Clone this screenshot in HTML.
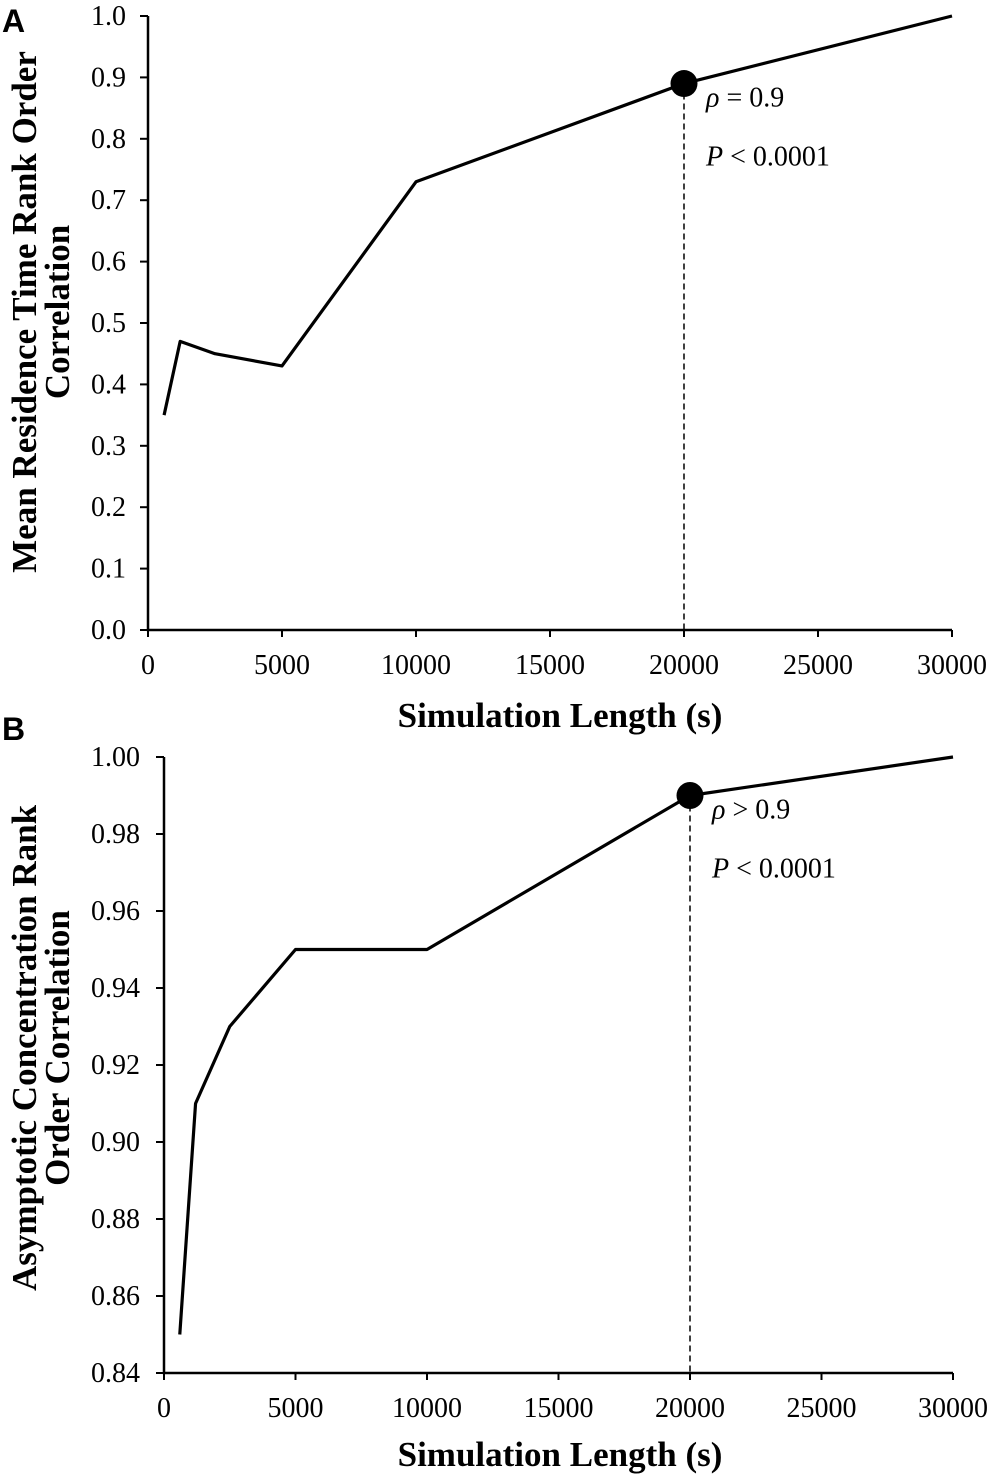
<!DOCTYPE html>
<html><head><meta charset="utf-8"><style>
body{margin:0;background:#fff}
svg{display:block;font-family:"Liberation Serif",serif}
</style></head><body>
<svg width="992" height="1476" viewBox="0 0 992 1476">
<g id="A"></g>
<g id="B"></g>
</svg>
<script>
const xsA=[600,1200,2500,5000,10000,20000,30000];
const ysA=[0.35,0.47,0.45,0.43,0.73,0.89,1.0];
const xsB=[600,1200,2500,5000,10000,20000,30000];
const ysB=[0.85,0.91,0.93,0.95,0.95,0.99,1.0];
const xTicks=[0,5000,10000,15000,20000,25000,30000];
const yTicksA=[0,0.1,0.2,0.3,0.4,0.5,0.6,0.7,0.8,0.9,1.0];
const yTicksB=[0.84,0.86,0.88,0.90,0.92,0.94,0.96,0.98,1.00];
const markA=[20000,0.89];
const markB=[20000,0.99];
const NS="http://www.w3.org/2000/svg";
function mk(p,t,a){const e=document.createElementNS(NS,t);for(const k in a)e.setAttribute(k,a[k]);p.appendChild(e);return e;}
function panel(g,cfg){
 const X=v=>cfg.x0+(v-0)/30000*(cfg.x1-cfg.x0);
 const Y=v=>cfg.y0+(v-cfg.ymin)/(cfg.ymax-cfg.ymin)*(cfg.y1-cfg.y0);
 const ax=mk(g,'path',{d:`M${X(0)},${Y(cfg.ymax)}V${Y(cfg.ymin)}H${X(30000)}`,stroke:'#000','stroke-width':2.5,fill:'none'});
 
 
 xTicks.forEach(t=>{
  const l=mk(g,'line',{x1:X(t),x2:X(t),y1:Y(cfg.ymin),y2:Y(cfg.ymin)+7,stroke:'#000','stroke-width':2});
  
  
  const tx=mk(g,'text',{x:X(t),y:Y(cfg.ymin)+44,'font-size':28,'text-anchor':'middle'});tx.textContent=t;
  
  
 });
 cfg.yt.forEach(t=>{
  const l=mk(g,'line',{x1:X(0)-8,x2:X(0),y1:Y(t),y2:Y(t),stroke:'#000','stroke-width':2});
  
  
  const tx=mk(g,'text',{x:X(0)-cfg.tlo,y:Y(t)+9,'font-size':28,'text-anchor':'end'});tx.textContent=t.toFixed(cfg.dec);
  
  
 });
 const pts=cfg.xs.map((v,i)=>X(v)+','+Y(cfg.ys[i])).join(' ');
 const pl=mk(g,'polyline',{points:pts,fill:'none',stroke:'#000','stroke-width':3.2,'stroke-linejoin':'round'});
 
 
 const dl=mk(g,'line',{x1:X(cfg.m[0]),x2:X(cfg.m[0]),y1:Y(cfg.m[1]),y2:Y(cfg.ymin),stroke:'#000','stroke-width':1.5,'stroke-dasharray':'6,4'});
 
 
 const c=mk(g,'circle',{cx:X(cfg.m[0]),cy:Y(cfg.m[1]),r:13.5,fill:'#000'});
 
 
 const r=mk(g,'text',{x:X(cfg.m[0])+22,y:Y(cfg.m[1])+23,'font-size':28});
 r.innerHTML='<tspan font-style="italic">ρ</tspan> '+cfg.rho;
 
 
 const p=mk(g,'text',{x:X(cfg.m[0])+22,y:Y(cfg.m[1])+82,'font-size':28});
 p.innerHTML='<tspan font-style="italic">P</tspan> &lt; 0.0001';
 
 
 const xt=mk(g,'text',{x:560,y:cfg.xlabY,'font-size':35,'font-weight':'bold','text-anchor':'middle'});xt.textContent='Simulation Length (s)';
 
 
 const yt=mk(g,'text',{transform:`translate(${cfg.ylx},${cfg.ylc}) rotate(-90)`,'font-size':35,'font-weight':'bold','text-anchor':'middle'});
 yt.innerHTML=`<tspan x="0" dy="0">${cfg.yl1}</tspan><tspan x="0" dy="33">${cfg.yl2}</tspan>`;
 
 
 const lb=mk(g,'text',{x:2,y:cfg.lbY,'font-size':32,'font-weight':'bold','font-family':'Liberation Sans, sans-serif'});lb.textContent=cfg.lb;
 
 
}
panel(document.getElementById('A'),{x0:148,x1:952,y0:630,y1:16,ymin:0,ymax:1,xs:xsA,ys:ysA,yt:yTicksA,dec:1,tlo:22,m:markA,rho:'= 0.9',xlabY:727,ylx:36,ylc:312,yl1:'Mean Residence Time Rank Order',yl2:'Correlation',lb:'A',lbY:32});
panel(document.getElementById('B'),{x0:164,x1:953,y0:1373,y1:757,ymin:0.84,ymax:1.0,xs:xsB,ys:ysB,yt:yTicksB,dec:2,tlo:24,m:markB,rho:'> 0.9',xlabY:1466,ylx:36,ylc:1048,yl1:'Asymptotic Concentration Rank',yl2:'Order Correlation',lb:'B',lbY:740});
</script>
</body></html>
